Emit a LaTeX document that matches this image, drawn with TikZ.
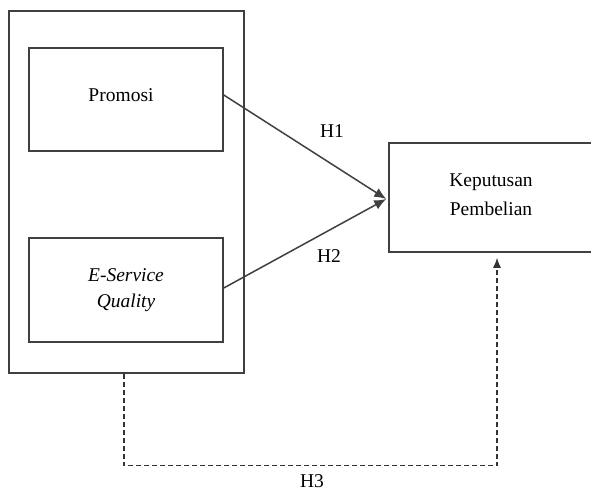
\documentclass[tikz,border=0pt]{standalone}
\usepackage{fontspec}
\setmainfont{Liberation Serif}
\usetikzlibrary{arrows.meta}
\begin{document}
\begin{tikzpicture}[x=1pt,y=-1pt,
  box/.style={draw=black!75, line width=1.5pt, inner sep=0pt, align=center, font=\fontsize{19.5}{29}\selectfont},
  conn/.style={draw=black!75, line width=1.5pt, -{Latex[length=12pt,width=10pt]}},
  dconn/.style={draw=black!80, line width=1.3pt, dash pattern=on 5pt off 3pt, -{Latex[length=10pt,width=8pt]}},
  lbl/.style={font=\fontsize{19.5}{22}\selectfont, inner sep=0pt}]
\useasboundingbox (0,0) rectangle (591,492);
\clip (0,0) rectangle (591,492);
\fill[white] (0,0) rectangle (591,492);
\node[box, minimum width=235pt, minimum height=362pt] (outer) at (126.5,192) {};
\node[box, minimum width=194pt, minimum height=103pt] (promosi) at (126,99.5) {\raisebox{8pt}{Promosi}\hspace{10pt}};
\node[box, minimum width=194pt, minimum height=104pt] (esq) at (126,290) {\raisebox{-5pt}{\shortstack{\itshape E-Service\\[9pt]\itshape Quality}}};
\node[box, minimum width=204pt, minimum height=109pt] (kep) at (491,197.5) {\raisebox{6pt}{\shortstack{Keputusan\\[8pt]Pembelian}}};
\draw[conn] ([yshift=4.5pt]promosi.east) -- ([xshift=-2pt,yshift=-1.5pt]kep.west);
\draw[conn] ([yshift=2pt]esq.east) -- ([xshift=-2pt,yshift=-1.5pt]kep.west);
\draw[dconn, shorten >=5pt] ([xshift=-2.5pt]outer.south) -- ++(0,92) -| ([xshift=6pt]kep.south);
\node[lbl] (h1) at (332,131) {H1};
\node[lbl] (h2) at (329,256) {H2};
\node[lbl] (h3) at (312,481) {H3};
\end{tikzpicture}
\end{document}
